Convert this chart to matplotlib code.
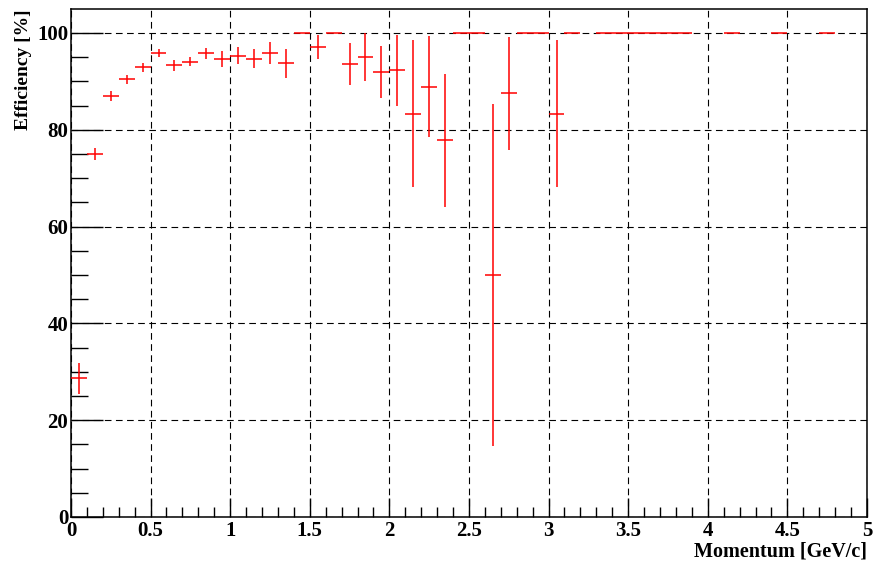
import numpy as np
import matplotlib
matplotlib.use("Agg")
import matplotlib.pyplot as plt
from matplotlib.ticker import MultipleLocator, FormatStrFormatter

# bin centres [GeV/c], efficiency [%] and its error
momentum = [0.05, 0.15, 0.25, 0.35, 0.45, 0.55, 0.65, 0.75, 0.85, 0.95,
            1.05, 1.15, 1.25, 1.35, 1.45, 1.55, 1.65, 1.75, 1.85, 1.95,
            2.05, 2.15, 2.25, 2.35, 2.45, 2.55, 2.65, 2.75, 2.85, 2.95,
            3.05, 3.15, 3.35, 3.45, 3.55, 3.65, 3.75, 3.85,
            4.15, 4.45, 4.75]
efficiency = [28.7, 75.0, 87.0, 90.4, 92.9, 95.8, 93.3, 94.1, 95.8, 94.7,
              95.3, 94.7, 95.9, 93.7, 100.0, 97.1, 100.0, 93.6, 95.0, 92.0,
              92.3, 83.3, 88.9, 77.8, 100.0, 100.0, 50.0, 87.5, 100.0, 100.0,
              83.3, 100.0, 100.0, 100.0, 100.0, 100.0, 100.0, 100.0,
              100.0, 100.0, 100.0]
eff_err = [3.2, 1.3, 1.1, 0.95, 1.0, 0.8, 1.1, 1.0, 1.1, 1.65,
           1.75, 2.0, 2.3, 3.0, 0.0, 2.4, 0.0, 4.4, 4.9, 5.4,
           7.3, 15.2, 10.4, 13.8, 0.0, 0.0, 35.4, 11.7, 0.0, 0.0,
           15.2, 0.0, 0.0, 0.0, 0.0, 0.0, 0.0, 0.0,
           0.0, 0.0, 0.0]
bin_half = 0.05

plt.rcParams['font.family'] = ['Liberation Serif', 'DejaVu Serif']
plt.rcParams['font.weight'] = 'bold'

fig = plt.figure(figsize=(8.73, 5.62), dpi=100)
ax = fig.add_axes([0.0813, 0.0801, 0.9931 - 0.0813, 0.9835 - 0.0801])

ax.errorbar(momentum, efficiency, yerr=eff_err, xerr=bin_half, fmt='none',
            ecolor='red', elinewidth=1.1, capsize=0, zorder=3)

ax.set_xlim(0, 5)
ax.set_ylim(0, 104.9)

ax.xaxis.set_major_locator(MultipleLocator(0.5))
ax.xaxis.set_minor_locator(MultipleLocator(0.1))
ax.yaxis.set_major_locator(MultipleLocator(20))
ax.yaxis.set_minor_locator(MultipleLocator(5))
ax.xaxis.set_major_formatter(FormatStrFormatter('%g'))
ax.yaxis.set_major_formatter(FormatStrFormatter('%g'))

ax.tick_params(which='both', direction='in', top=False, right=False,
               labelsize=15, width=1.0)
ax.tick_params(axis='x', which='major', length=14, pad=3)
ax.tick_params(axis='x', which='minor', length=7)
ax.tick_params(axis='y', which='major', length=23, pad=2)
ax.tick_params(axis='y', which='minor', length=12)

for sp in ax.spines.values():
    sp.set_linewidth(1.1)

ax.grid(True, which='major', color='black', linewidth=0.8,
        linestyle=(0, (6, 4)), zorder=1)
ax.set_axisbelow(True)

ax.set_xlabel('Momentum [GeV/c]', fontsize=14.5, fontweight='bold',
              loc='right', labelpad=0)
ax.set_ylabel('Efficiency [%]', fontsize=14, fontweight='bold',
              loc='top', labelpad=4)

plt.savefig("out.png", dpi=100)
